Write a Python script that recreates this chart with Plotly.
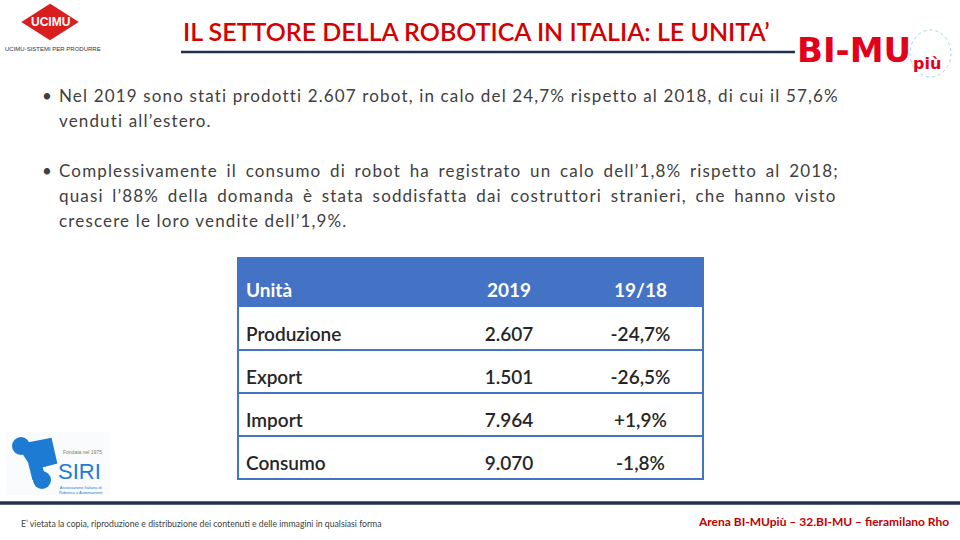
import plotly.graph_objects as go

# dati della tabella
voci = ["Produzione", "Export", "Import", "Consumo"]
unita_2019 = [2607, 1501, 7964, 9070]
var_19_18 = [-24.7, -26.5, 1.9, -1.8]
intestazioni = ["Unità", "2019", "19/18"]

bullet_1 = ["Nel 2019 sono stati prodotti 2.607 robot, in calo del 24,7% rispetto al 2018, di cui il 57,6%",
            "venduti all’estero."]
bullet_2 = ["Complessivamente il consumo di robot ha registrato un calo dell’1,8% rispetto al 2018;",
            "quasi l’88% della domanda è stata soddisfatta dai costruttori stranieri, che hanno visto",
            "crescere le loro vendite dell’1,9%."]
# spaziatura parole per le righe giustificate
word_sp_1 = [0, 0]
word_sp_2 = [3.2, 3.2, 0]

W, H = 960, 540
BLU = "#4472C4"
NAVY = "#1F3050"
ROSSO = "#D40000"
FONT = "Lato"


def fmt_num(v):
    return f"{v:,}".replace(",", ".")


def fmt_pct(v):
    return f"{v:+.1f}%".replace(".", ",")


def px(x):
    return x / W


def py(y):
    return 1 - y / H


# geometria tabella (pixel)
tx0, tx1 = 238, 703
ty0 = 258
head_h, row_h = 49, 43
ty1 = ty0 + head_h + row_h * len(voci)
dy_head = 17  # abbassa il testo dell'intestazione
dy_rows = 12  # abbassa il testo delle righe

tabella = go.Table(
    domain=dict(x=[px(tx0), px(tx1)], y=[py(ty1 + dy_rows), py(ty0 + dy_head)]),
    columnwidth=[202, 138, 125],
    header=dict(
        values=intestazioni,
        fill_color="rgba(0,0,0,0)",
        line=dict(color="rgba(0,0,0,0)", width=0),
        align=["left", "center", "center"],
        font=dict(family=FONT, size=19, color="white", weight="bold"),
        height=head_h - (dy_head - dy_rows),
    ),
    cells=dict(
        values=[voci, [fmt_num(v) for v in unita_2019], [fmt_pct(v) for v in var_19_18]],
        fill_color="rgba(0,0,0,0)",
        line=dict(color="rgba(0,0,0,0)", width=0),
        align=["left", "center", "center"],
        font=dict(family=FONT, size=19, color="#262626", weight=600),
        height=row_h,
    ),
)

fig = go.Figure(data=[tabella])

shapes = []
# sfondo intestazione
shapes.append(dict(type="rect", xref="paper", yref="paper", layer="below", x0=px(tx0), x1=px(tx1),
                   y0=py(ty0 + head_h), y1=py(ty0), fillcolor=BLU, line=dict(width=0)))
# bordo tabella e separatori
shapes.append(dict(type="rect", xref="paper", yref="paper", x0=px(tx0), x1=px(tx1),
                   y0=py(ty1), y1=py(ty0), line=dict(color=BLU, width=2)))
for i in range(1, len(voci)):
    y = ty0 + head_h + row_h * i
    shapes.append(dict(type="line", xref="paper", yref="paper", x0=px(tx0), x1=px(tx1),
                       y0=py(y), y1=py(y), line=dict(color=BLU, width=2)))
# linea sotto il titolo
shapes.append(dict(type="line", xref="paper", yref="paper", x0=px(181), x1=px(795),
                   y0=py(52), y1=py(52), line=dict(color=NAVY, width=2.5)))
# linea del piè di pagina
shapes.append(dict(type="line", xref="paper", yref="paper", x0=0, x1=1,
                   y0=py(503), y1=py(503), line=dict(color=NAVY, width=3.5)))
# logo UCIMU (rombo rosso)
shapes.append(dict(type="path", xref="paper", yref="paper",
                   path=f"M {px(50)} {py(6)} L {px(75)} {py(22)} L {px(50)} {py(38)} L {px(25)} {py(22)} Z",
                   fillcolor="#D81E1E", line=dict(color="#D81E1E", width=4)))
# logo SIRI
shapes.append(dict(type="rect", xref="paper", yref="paper", layer="below",
                   x0=px(6), x1=px(110), y0=py(495), y1=py(432),
                   fillcolor="#FAFBFC", line=dict(width=0)))
shapes.append(dict(type="path", xref="paper", yref="paper",
                   path=(f"M {px(20)} {py(446)} L {px(50)} {py(440)} L {px(55)} {py(462)} "
                         f"L {px(40)} {py(466)} L {px(44)} {py(478)} L {px(34)} {py(478)} "
                         f"L {px(30)} {py(462)} Z"),
                   fillcolor="#1E7BD3", line=dict(color="#1E7BD3", width=4)))
for cx, cy, r in [(21, 446, 9), (42, 480, 9)]:
    shapes.append(dict(type="circle", xref="paper", yref="paper",
                       x0=px(cx - r), x1=px(cx + r), y0=py(cy + r), y1=py(cy - r),
                       fillcolor="#1E7BD3", line=dict(width=0)))
# cerchio decorativo BI-MUpiù
shapes.append(dict(type="circle", xref="paper", yref="paper",
                   x0=px(910), x1=px(951), y0=py(77), y1=py(30),
                   line=dict(color="#9FD3E8", width=1, dash="dot")))

ann = []
ann.append(dict(text="IL SETTORE DELLA ROBOTICA IN ITALIA: LE UNITA’", x=px(181), y=py(31),
                xanchor="left", yanchor="middle", showarrow=False,
                font=dict(family=FONT, size=25, color=ROSSO, weight=600)))
ann.append(dict(text="<b>BI-MU</b>", x=px(795), y=py(50), xanchor="left", yanchor="middle",
                showarrow=False, font=dict(family="DejaVu Sans", size=34, color="#E3001B")))
ann.append(dict(text="<b>più</b>", x=px(911), y=py(63), xanchor="left", yanchor="middle",
                showarrow=False, font=dict(family="DejaVu Sans", size=16, color="#E3001B")))
ann.append(dict(text="<b>UCIMU</b>", x=px(50), y=py(22), xanchor="center", yanchor="middle",
                showarrow=False, font=dict(family="Liberation Sans Narrow, Liberation Sans", size=12, color="white")))
ann.append(dict(text="UCIMU-SISTEMI PER PRODURRE", x=px(3), y=py(49), xanchor="left", yanchor="middle",
                showarrow=False, font=dict(family="Liberation Sans", size=6, color="#333333")))
ann.append(dict(text="SIRI", x=px(56), y=py(471), xanchor="left", yanchor="middle",
                showarrow=False, font=dict(family="Liberation Sans", size=22, color="#1E7BD3")))
ann.append(dict(text="Fondata nel 1975", x=px(61), y=py(452), xanchor="left", yanchor="middle",
                showarrow=False, font=dict(family="Liberation Sans", size=5, color="#8A7A50")))
ann.append(dict(text="Associazione Italiana di<br>Robotica e Automazione", x=px(57), y=py(490),
                xanchor="left", yanchor="middle", showarrow=False,
                font=dict(family="Liberation Sans", size=4, color="#1E7BD3")))

# elenchi puntati
for blocco, spazi, y0 in [(bullet_1, word_sp_1, 95), (bullet_2, word_sp_2, 170)]:
    ann.append(dict(text="•", x=px(40), y=py(y0), xanchor="left", yanchor="middle", showarrow=False,
                    font=dict(family=FONT, size=17, color="#404040")))
    for i, riga in enumerate(blocco):
        testo = f"<span style='letter-spacing:1.15px; word-spacing:{spazi[i]}px'>{riga}</span>"
        ann.append(dict(text=testo, x=px(57), y=py(y0 + 25 * i), xanchor="left", yanchor="middle",
                        showarrow=False, font=dict(family=FONT, size=17, color="#404040")))

# piè di pagina
ann.append(dict(text="E’ vietata la copia, riproduzione e distribuzione dei contenuti e delle immagini in qualsiasi forma",
                x=px(19), y=py(523), xanchor="left", yanchor="middle", showarrow=False,
                font=dict(family=FONT, size=8.7, color="#404040")))
ann.append(dict(text="<b>Arena BI-MUpiù – 32.BI-MU – fieramilano Rho</b>", x=px(951), y=py(521),
                xanchor="right", yanchor="middle", showarrow=False,
                font=dict(family=FONT, size=12, color="#C00000")))

fig.update_layout(
    width=W, height=H,
    margin=dict(l=0, r=0, t=0, b=0),
    paper_bgcolor="white",
    plot_bgcolor="white",
    shapes=shapes,
    annotations=ann,
)

fig.write_html("out.html", config={"displayModeBar": False},
               post_script="document.body.style.margin='0';")
